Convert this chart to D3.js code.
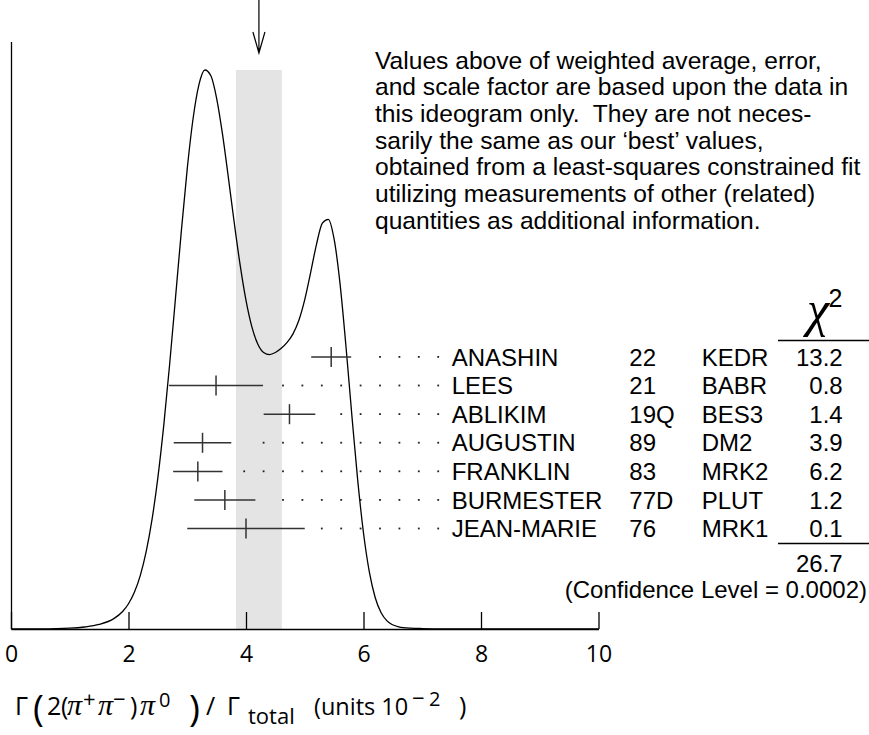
<!DOCTYPE html>
<html><head><meta charset="utf-8">
<script src="https://cdn.jsdelivr.net/npm/d3@7"></script>
<style>html,body{margin:0;padding:0;background:#fff;} svg{display:block}</style>
</head><body>
<svg id="chart" width="869" height="735"></svg>
<script>
// ---- data ----
const authors = ["ANASHIN","LEES","ABLIKIM","AUGUSTIN","FRANKLIN","BURMESTER","JEAN-MARIE"];
const years = ["22","21","19Q","89","83","77D","76"];
const experiments = ["KEDR","BABR","BES3","DM2","MRK2","PLUT","MRK1"];
const values = [5.45,3.49,4.74,3.26,3.18,3.64,4.00];
const errors = [0.34,0.80,0.44,0.49,0.42,0.52,1.00];
const chi2 = ["13.2","0.8","1.4","3.9","6.2","1.2","0.1"];
const chi2Total = "26.7";
const confidenceLevel = "0.0002";
const weightedAverage = 4.22;
const averageError = 0.39;
const xTicks = [0,2,4,6,8,10];
// ideogram curve (relative height, first peak = 1)
const curveX = [0,0.5,1.0,1.25,1.5,1.75,1.9,2.0,2.1,2.2,2.3,2.4,2.5,2.6,2.7,2.8,2.9,3.0,3.1,3.2,3.3,3.4,3.5,3.6,3.7,3.8,3.9,4.0,4.1,4.2,4.3,4.4,4.5,4.6,4.7,4.8,4.9,5.0,5.1,5.2,5.3,5.4,5.5,5.6,5.7,5.8,5.9,6.0,6.1,6.2,6.3,6.4,6.6,6.8,7.0,7.5,8.0,10.0];
const curveY = [0,0.0002,0.0015,0.0036,0.0081,0.0185,0.0313,0.0452,0.0657,0.0956,0.1378,0.1955,0.2708,0.3642,0.4732,0.5923,0.7127,0.8235,0.9137,0.9742,1.0,0.9902,0.9494,0.8852,0.8076,0.7267,0.6513,0.5879,0.5405,0.51,0.4947,0.491,0.4947,0.5022,0.5126,0.5279,0.5522,0.5892,0.6375,0.6882,0.7259,0.7329,0.6973,0.6184,0.5076,0.3843,0.2677,0.1717,0.1017,0.0559,0.029,0.0146,0.004,0.0015,0.0008,0.0002,0,0];
const noteLines = [
  "Values above of weighted average, error,",
  "and scale factor are based upon the data in",
  "this ideogram only.  They are not neces-",
  "sarily the same as our \u2018best\u2019 values,",
  "obtained from a least-squares constrained fit",
  "utilizing measurements of other (related)",
  "quantities as additional information."
];

// ---- drawing ----
const svg = d3.select("#chart");
const SANS = "'Liberation Sans', Arial, Helvetica, sans-serif";
const AXF = "'Open Sans', 'DejaVu Sans', sans-serif";
const SER = "'Liberation Serif', 'DejaVu Serif', serif";
const x = d3.scaleLinear().domain([0,10]).range([11, 598.5]);
const y = d3.scaleLinear().domain([0,1]).range([629, 70]);
const row = d3.scalePoint().domain(authors).range([357, 528.6]);

// band
svg.append("rect")
  .attr("x", x(weightedAverage-averageError))
  .attr("width", x(weightedAverage+averageError)-x(weightedAverage-averageError))
  .attr("y", y(1)).attr("height", y(0)-y(1))
  .attr("fill", "#e4e4e4");

// left vertical line
svg.append("line").attr("x1", 11.5).attr("x2", 11.5).attr("y1", 42).attr("y2", 629)
  .attr("stroke", "#000").attr("stroke-width", 1.3);

// axis
const axis = d3.axisBottom(x).tickValues(xTicks).tickSizeInner(-17).tickSizeOuter(0).tickPadding(17)
  .tickFormat(d3.format("d"));
const g = svg.append("g").attr("transform", "translate(0,629)").call(axis)
  .attr("font-family", AXF).attr("font-size", 23);
g.select(".domain").attr("stroke", "#000").attr("stroke-width", 1.3);
g.selectAll(".tick line").attr("stroke", "#000").attr("stroke-width", 1.3);
g.selectAll(".tick text").attr("fill", "#000");

// curve
const pts = curveX.map((v,i) => [v, curveY[i]]);
svg.append("path").datum(pts)
  .attr("d", d3.line().x(d => x(d[0])).y(d => y(d[1])).curve(d3.curveMonotoneX))
  .attr("fill", "none").attr("stroke", "#000").attr("stroke-width", 1.3);

// arrow
const ax = x(weightedAverage);
svg.append("path")
  .attr("d", `M${ax},0V53M${ax-6},32L${ax},53L${ax+6},32`)
  .attr("fill", "none").attr("stroke", "#000").attr("stroke-width", 1.2);

// error bars + dots
const labelX = 451.7;
authors.forEach((a, i) => {
  const ry = row(a);
  const lo = x(values[i]-errors[i]), hi = x(values[i]+errors[i]), c = x(values[i]);
  svg.append("line").attr("x1", lo).attr("x2", hi).attr("y1", ry).attr("y2", ry)
    .attr("stroke", "#333").attr("stroke-width", 1.5);
  svg.append("line").attr("x1", c).attr("x2", c).attr("y1", ry-10).attr("y2", ry+10)
    .attr("stroke", "#333").attr("stroke-width", 1.5);
  const dots = [];
  for (let px = labelX - 13.4; px > hi + 14; px -= 19.4) dots.push(px);
  svg.selectAll(null).data(dots).enter().append("rect")
    .attr("x", d => d - 1).attr("y", ry - 1).attr("width", 1.8).attr("height", 1.8)
    .attr("fill", "#222");
});

// table text
const tfs = 24;
const tg = svg.append("g").attr("font-family", SANS).attr("font-size", tfs).attr("fill", "#000");
authors.forEach((a, i) => {
  const by = row(a) + 8.6;
  tg.append("text").attr("x", labelX).attr("y", by).text(a);
  tg.append("text").attr("x", 629.3).attr("y", by).text(years[i]);
  tg.append("text").attr("x", 701.7).attr("y", by).text(experiments[i]);
  tg.append("text").attr("x", 842.7).attr("y", by).attr("text-anchor", "end").text(chi2[i]);
});
tg.append("text").attr("x", 842.7).attr("y", 572).attr("text-anchor", "end").text(chi2Total);
tg.append("text").attr("x", 867).attr("y", 598).attr("text-anchor", "end")
  .text(`(Confidence Level = ${confidenceLevel})`);

// chi2 header
svg.append("text").attr("x", 818).attr("y", 326).attr("text-anchor", "middle")
  .attr("font-family", SER).attr("font-style", "italic")
  .attr("font-size", 50).text("\u03C7");
svg.append("text").attr("x", 828.5).attr("y", 307)
  .attr("font-family", SANS).attr("font-size", 25).text("2");
svg.append("line").attr("x1", 778).attr("x2", 869).attr("y1", 340.5).attr("y2", 340.5)
  .attr("stroke", "#000").attr("stroke-width", 1.3);
svg.append("line").attr("x1", 778).attr("x2", 869).attr("y1", 543.5).attr("y2", 543.5)
  .attr("stroke", "#000").attr("stroke-width", 1.3);

// note paragraph
const ng = svg.append("g").attr("font-family", SANS).attr("font-size", 24.6).attr("fill", "#000");
noteLines.forEach((l, i) => {
  ng.append("text").attr("x", 375).attr("y", 68.5 + i*26.7)
    .style("white-space", "pre").text(l);
});

// x axis title
const pieces = [
  {t:"\u0393", x:15, y:715, fs:25},
  {t:"(", x:33, y:721, fs:37},
  {t:"2", x:47, y:715, fs:25},
  {t:"(", x:61, y:715, fs:25},
  {t:"\u03C0", x:67, y:715, fs:30, f:SER, it:true},
  {t:"+", x:83, y:707, fs:22},
  {t:"\u03C0", x:98, y:715, fs:30, f:SER, it:true},
  {t:"\u2212", x:113, y:707, fs:22},
  {t:")", x:130, y:715, fs:25},
  {t:"\u03C0", x:140, y:715, fs:30, f:SER, it:true},
  {t:"0", x:159, y:707, fs:20},
  {t:")", x:189, y:721, fs:37},
  {t:"/", x:206, y:715, fs:25},
  {t:"\u0393", x:227, y:715, fs:25},
  {t:"total", x:248, y:724, fs:22},
  {t:"(units 10", x:314, y:715, fs:23.5},
  {t:"\u2212", x:412, y:706, fs:22},
  {t:"2", x:429, y:706, fs:20},
  {t:")", x:459, y:715, fs:25}
];
const lg = svg.append("g").attr("fill", "#000");
pieces.forEach(p => {
  lg.append("text").attr("x", p.x).attr("y", p.y).attr("font-size", p.fs)
    .attr("font-family", p.f || AXF).attr("font-style", p.it ? "italic" : "normal")
    .text(p.t);
});
</script>
</body></html>
